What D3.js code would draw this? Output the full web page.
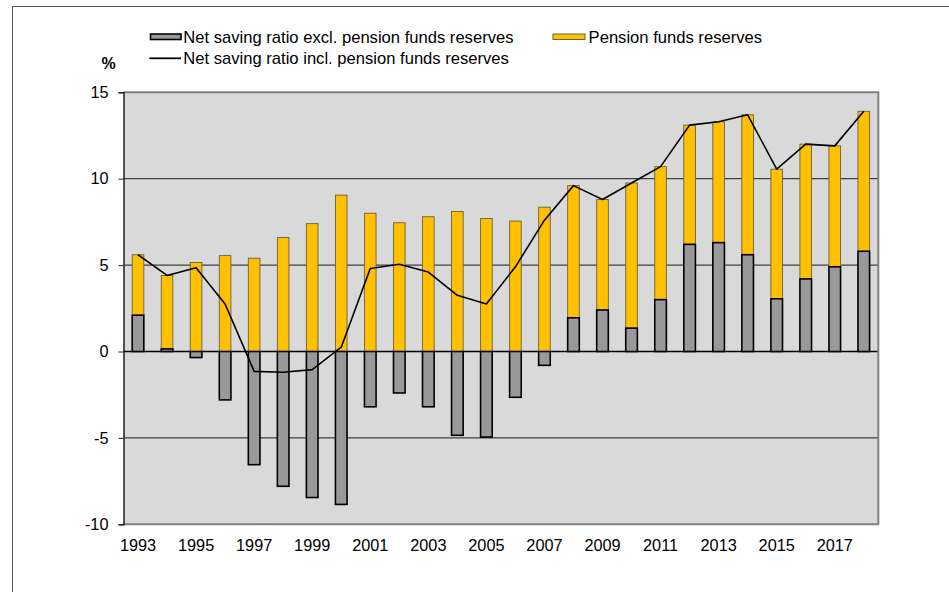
<!DOCTYPE html>
<html>
<head>
<meta charset="utf-8">
<script src="https://cdn.jsdelivr.net/npm/d3@7"></script>
<style>
  html, body { margin: 0; padding: 0; background: #ffffff; }
  svg { display: block; }
  text { font-family: "Liberation Sans", Arial, sans-serif; fill: #000; }
</style>
</head>
<body>
<svg id="chart" width="949" height="592"></svg>
<script>
// Household net saving ratio, %
const years = [1993, 1994, 1995, 1996, 1997, 1998, 1999, 2000, 2001, 2002, 2003, 2004, 2005,
               2006, 2007, 2008, 2009, 2010, 2011, 2012, 2013, 2014, 2015, 2016, 2017, 2018];
const savingExclPension = [2.1, 0.15, -0.35, -2.8, -6.55, -7.8, -8.45, -8.85, -3.2, -2.4, -3.2, -4.85, -4.95,
                           -2.65, -0.8, 1.95, 2.4, 1.35, 3.0, 6.2, 6.3, 5.6, 3.05, 4.2, 4.9, 5.8];
const pensionReserves = [3.5, 4.25, 5.15, 5.55, 5.4, 6.6, 7.4, 9.05, 8.0, 7.45, 7.8, 8.1, 7.7,
                         7.55, 8.35, 7.65, 6.4, 8.4, 7.7, 6.9, 7.0, 8.1, 7.5, 7.8, 7.0, 8.1];
const savingInclPension = [5.6, 4.4, 4.85, 2.75, -1.15, -1.2, -1.05, 0.25, 4.8, 5.05, 4.6, 3.25, 2.75,
                           4.9, 7.6, 9.6, 8.8, 9.75, 10.7, 13.1, 13.3, 13.7, 10.55, 12.0, 11.9, 13.9];
const yTicks = [-10, -5, 0, 5, 10, 15];
const xTickYears = [1993, 1995, 1997, 1999, 2001, 2003, 2005, 2007, 2009, 2011, 2013, 2015, 2017];

const seriesNames = {
  excl: "Net saving ratio excl. pension funds reserves",
  pension: "Pension funds reserves",
  incl: "Net saving ratio incl. pension funds reserves"
};

const colors = { plotBg: "#d9d9d9", grey: "#999999", yellow: "#ffc000" };

const svg = d3.select("#chart");

// outer chart frame
svg.append("rect")
  .attr("x", 12.5).attr("y", 6.5)
  .attr("width", 1000).attr("height", 1000)
  .attr("fill", "none").attr("stroke", "#595959").attr("stroke-width", 1);

const plot = { left: 123.5, right: 878.3, top: 92.3, bottom: 524.3 };

const x = d3.scaleBand()
  .domain(years)
  .range([plot.left, plot.right])
  .paddingInner(0.6)
  .paddingOuter(0.3);

const y = d3.scaleLinear()
  .domain([-10, 15])
  .range([plot.bottom, plot.top]);

// plot area
svg.append("rect")
  .attr("x", plot.left).attr("y", plot.top)
  .attr("width", plot.right - plot.left).attr("height", plot.bottom - plot.top)
  .attr("fill", colors.plotBg);

// horizontal gridlines
svg.append("g")
  .selectAll("line")
  .data(yTicks.filter(v => v > -10 && v < 15))
  .join("line")
  .attr("x1", plot.left).attr("x2", plot.right)
  .attr("y1", d => y(d)).attr("y2", d => y(d))
  .attr("stroke", d => d === 0 ? "#000" : "#1a1a1a")
  .attr("stroke-width", d => d === 0 ? 1.5 : 1);

// plot frame (top, right, bottom)
svg.append("path")
  .attr("d", `M${plot.left},${plot.top}H${plot.right}V${plot.bottom}H${plot.left}`)
  .attr("fill", "none").attr("stroke", "#808080").attr("stroke-width", 2);

// y axis
const yAxis = svg.append("g")
  .attr("transform", `translate(${plot.left},0)`)
  .call(d3.axisLeft(y).tickValues(yTicks).tickSize(5).tickPadding(10).tickFormat(d3.format("d")));
yAxis.select(".domain").attr("stroke", "#222").attr("stroke-width", 1.5);
yAxis.selectAll(".tick line").attr("stroke", "#222");
yAxis.selectAll(".tick text")
  .attr("font-size", 16.3)
  .attr("font-family", "'Liberation Sans', Arial, sans-serif")
  .attr("fill", "#000")
  .text(d => d < 0 ? "-" + Math.abs(d) : d);

// x axis labels (every second year)
const xAxis = svg.append("g")
  .attr("transform", `translate(0,${plot.bottom})`)
  .call(d3.axisBottom(x).tickValues(xTickYears).tickSize(0).tickPadding(15));
xAxis.select(".domain").remove();
xAxis.selectAll(".tick text")
  .attr("font-size", 16.3)
  .attr("font-family", "'Liberation Sans', Arial, sans-serif")
  .attr("fill", "#000");

// pension reserves bars: stacked on top of positive saving, from zero otherwise
const rows = years.map((yr, i) => ({
  year: yr,
  excl: savingExclPension[i],
  pension: pensionReserves[i],
  incl: savingInclPension[i]
}));

svg.append("g")
  .selectAll("rect")
  .data(rows)
  .join("rect")
  .attr("x", d => x(d.year))
  .attr("width", x.bandwidth())
  .attr("y", d => y(Math.max(d.excl, 0) + d.pension))
  .attr("height", d => y(Math.max(d.excl, 0)) - y(Math.max(d.excl, 0) + d.pension))
  .attr("fill", colors.yellow)
  .attr("stroke", "#6b6040")
  .attr("stroke-width", 0.9);

// saving ratio excl. pension reserves bars
svg.append("g")
  .selectAll("rect")
  .data(rows)
  .join("rect")
  .attr("x", d => x(d.year))
  .attr("width", x.bandwidth())
  .attr("y", d => y(Math.max(d.excl, 0)))
  .attr("height", d => Math.abs(y(d.excl) - y(0)))
  .attr("fill", colors.grey)
  .attr("stroke", "#000")
  .attr("stroke-width", 1.6);

// saving ratio incl. pension reserves line
const line = d3.line()
  .x(d => x(d.year) + x.bandwidth() / 2)
  .y(d => y(d.incl));
svg.append("path")
  .datum(rows)
  .attr("d", line)
  .attr("fill", "none")
  .attr("stroke", "#000")
  .attr("stroke-width", 1.6)
  .attr("stroke-linejoin", "round");

// unit label
svg.append("text")
  .attr("x", 108.5).attr("y", 69)
  .attr("text-anchor", "middle")
  .attr("font-size", 16)
  .attr("font-weight", "bold")
  .text("%");

// legend
const legend = svg.append("g").attr("font-size", 16.6);
legend.append("rect")
  .attr("x", 150.5).attr("y", 34).attr("width", 30.5).attr("height", 5.5)
  .attr("fill", colors.grey).attr("stroke", "#000").attr("stroke-width", 1.6);
legend.append("text").attr("x", 183.3).attr("y", 42.5).text(seriesNames.excl);

legend.append("rect")
  .attr("x", 553).attr("y", 34).attr("width", 32).attr("height", 5.5)
  .attr("fill", colors.yellow).attr("stroke", "#6b6040").attr("stroke-width", 1);
legend.append("text").attr("x", 588.6).attr("y", 42.5).text(seriesNames.pension);

legend.append("line")
  .attr("x1", 149.3).attr("x2", 181).attr("y1", 58.3).attr("y2", 58.3)
  .attr("stroke", "#000").attr("stroke-width", 1.8);
legend.append("text").attr("x", 183.3).attr("y", 64).text(seriesNames.incl);
</script>
</body>
</html>
